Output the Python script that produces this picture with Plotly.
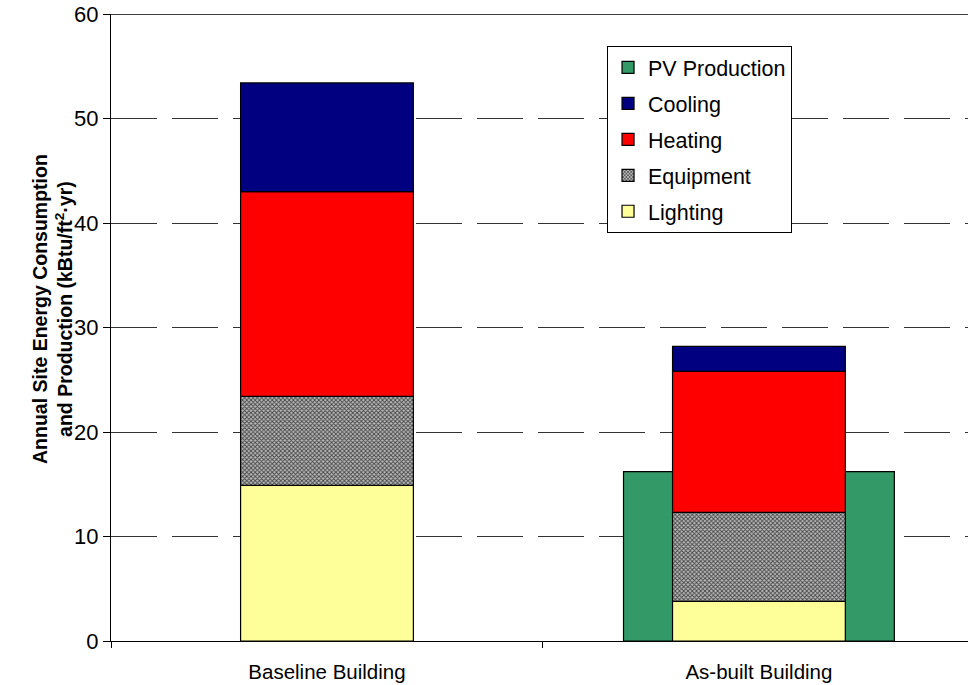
import plotly.graph_objects as go
import numpy as np

categories = ["Baseline Building", "As-built Building"]
lighting = [14.9, 3.8]
equipment = [8.5, 8.5]
heating = [19.6, 13.5]
cooling = [10.4, 2.4]
pv_production = [None, 16.2]

y_ticks = [0, 10, 20, 30, 40, 50, 60]
y_title = "<b>Annual Site Energy Consumption<br>and Production (kBtu/ft<sup>2</sup>·yr)</b>"

series = [
    ("Lighting", lighting, dict(color="#FFFF99")),
    ("Equipment", equipment, dict(color="#999999",
                                  pattern=dict(shape="x", size=3, solidity=0.5,
                                               fgcolor="#444444", bgcolor="#BBBBBB",
                                               fillmode="replace"))),
    ("Heating", heating, dict(color="#FF0000")),
    ("Cooling", cooling, dict(color="#000080")),
]

fig = go.Figure()

# PV production behind
fig.add_trace(go.Bar(
    x=categories, y=pv_production, name="PV Production", width=0.627,
    marker=dict(color="#339966", line=dict(color="#000000", width=1.2)),
    legendrank=1, legendgroup="pv",
))

base = np.zeros(len(categories))
rank = 5
for name, vals, mk in series:
    mk = dict(mk)
    mk["line"] = dict(color="#000000", width=1.2)
    fig.add_trace(go.Bar(
        x=categories, y=vals, base=list(base), name=name, width=0.4,
        marker=mk, legendrank=rank, legendgroup=name,
    ))
    base = base + np.array(vals)
    rank -= 1

fig.update_layout(
    width=968, height=685,
    barmode="overlay",
    plot_bgcolor="white", paper_bgcolor="white",
    margin=dict(l=111, r=0, t=14, b=44, autoexpand=False),
    font=dict(family="Liberation Sans, Arial", size=20, color="#000000"),
    legend=dict(
        x=0.5788, y=0.949, xanchor="left", yanchor="top",
        bgcolor="white", bordercolor="#000000", borderwidth=1,
        font=dict(size=21.5), traceorder="grouped", tracegroupgap=5,
    ),
    showlegend=True,
)

fig.update_xaxes(
    range=[-0.5, 1.484], showline=True, linecolor="#000000", linewidth=1,
    ticks="outside", tickson="boundaries", ticklen=6, tickcolor="#000000",
    showgrid=False, tickfont=dict(size=20.5), automargin=False,
    ticklabelstandoff=12,
)
fig.update_yaxes(
    range=[0, 60], tickvals=y_ticks, showline=True, linecolor="#000000", linewidth=1,
    ticks="outside", ticklen=7, tickcolor="#000000",
    showgrid=True, gridcolor="#333333", gridwidth=1, griddash="46px,15px",
    zeroline=False, tickfont=dict(size=22), automargin=False,
    ticklabeloverflow="allow",
)

fig.add_annotation(
    text=y_title, textangle=-90, xref="paper", yref="paper",
    x=0, y=0.5295, xshift=-59, xanchor="center", yanchor="middle",
    showarrow=False, font=dict(size=19.5),
)

fig.add_shape(type="line", xref="paper", yref="y", x0=-0.0091, x1=1, y0=60, y1=60,
              line=dict(color="#000000", width=1.5))

fig.write_html("out.html", config={"displayModeBar": False},
               post_script="document.body.style.margin='0';document.body.style.padding='0';")
